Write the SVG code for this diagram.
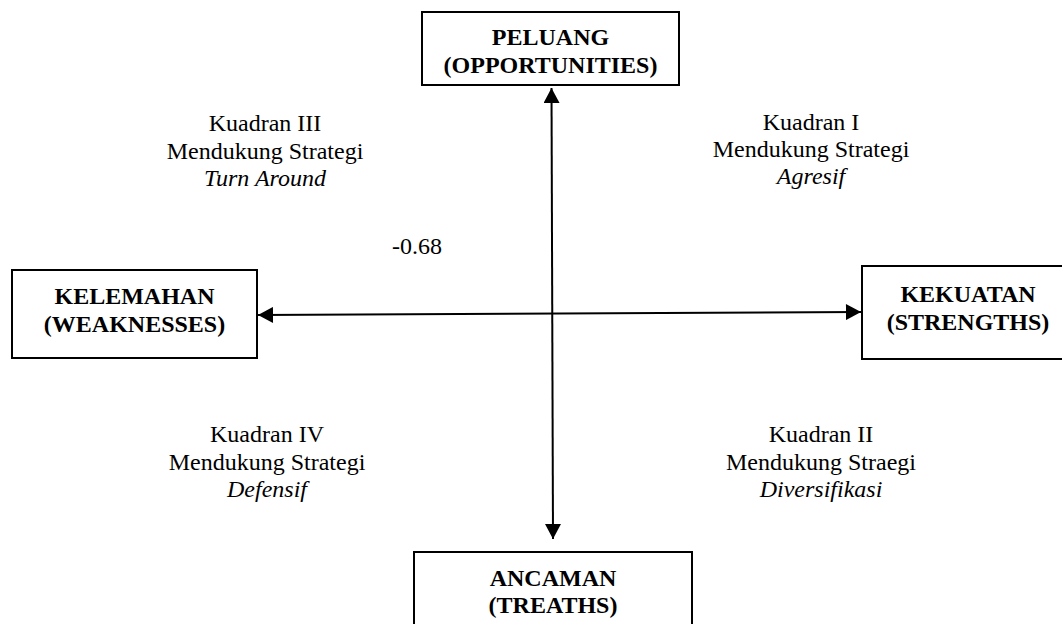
<svg xmlns="http://www.w3.org/2000/svg" width="1062" height="624" viewBox="0 0 1062 624">
<style>
.box{fill:#fff;stroke:#000;stroke-width:2}
text{font-family:'Liberation Serif','DejaVu Serif',serif;font-size:24px;text-anchor:middle;fill:#000}
.bt{font-weight:bold}
.it{font-style:italic}
.conn{stroke:#000;stroke-width:2;fill:none;marker-start:url(#ah);marker-end:url(#ah)}
</style>
<defs>
<marker id="ah" markerUnits="userSpaceOnUse" markerWidth="16" markerHeight="16" viewBox="0 0 15 16" refX="15" refY="8" orient="auto-start-reverse">
<path d="M0,0 L15,8 L0,16 Z" fill="#000"/>
</marker>
</defs>
<rect width="1062" height="624" fill="#fff"/>
<g id="connectors">
<line class="conn" x1="551.5" y1="88" x2="553" y2="539"/>
<line class="conn" x1="258" y1="315" x2="861" y2="312"/>
</g>
<g id="peluang">
<rect class="box" x="422" y="12" width="257" height="73"/>
<text class="bt" x="550.5" y="45" font-family="Liberation Serif, serif">PELUANG</text>
<text class="bt" x="550.5" y="73" font-family="Liberation Serif, serif">(OPPORTUNITIES)</text>
</g>
<g id="kelemahan">
<rect class="box" x="12" y="270" width="245" height="88"/>
<text class="bt" x="134.5" y="304">KELEMAHAN</text>
<text class="bt" x="134.5" y="332">(WEAKNESSES)</text>
</g>
<g id="kekuatan">
<rect class="box" x="862" y="266" width="212" height="93"/>
<text class="bt" x="968" y="302">KEKUATAN</text>
<text class="bt" x="968" y="330">(STRENGTHS)</text>
</g>
<g id="ancaman">
<rect class="box" x="414" y="552" width="278" height="90"/>
<text class="bt" x="553" y="586">ANCAMAN</text>
<text class="bt" x="553" y="613">(TREATHS)</text>
</g>
<g id="kuadran3">
<text x="265" y="131">Kuadran III</text>
<text x="265" y="159">Mendukung Strategi</text>
<text class="it" x="265" y="186">Turn Around</text>
</g>
<g id="kuadran1">
<text x="811" y="130">Kuadran I</text>
<text x="811" y="157">Mendukung Strategi</text>
<text class="it" x="811" y="184">Agresif</text>
</g>
<g id="kuadran4">
<text x="267" y="442">Kuadran IV</text>
<text x="267" y="470">Mendukung Strategi</text>
<text class="it" x="267" y="497">Defensif</text>
</g>
<g id="kuadran2">
<text x="821" y="442">Kuadran II</text>
<text x="821" y="470">Mendukung Straegi</text>
<text class="it" x="821" y="497">Diversifikasi</text>
</g>
<g id="value">
<text x="417" y="254">-0.68</text>
</g>
</svg>
